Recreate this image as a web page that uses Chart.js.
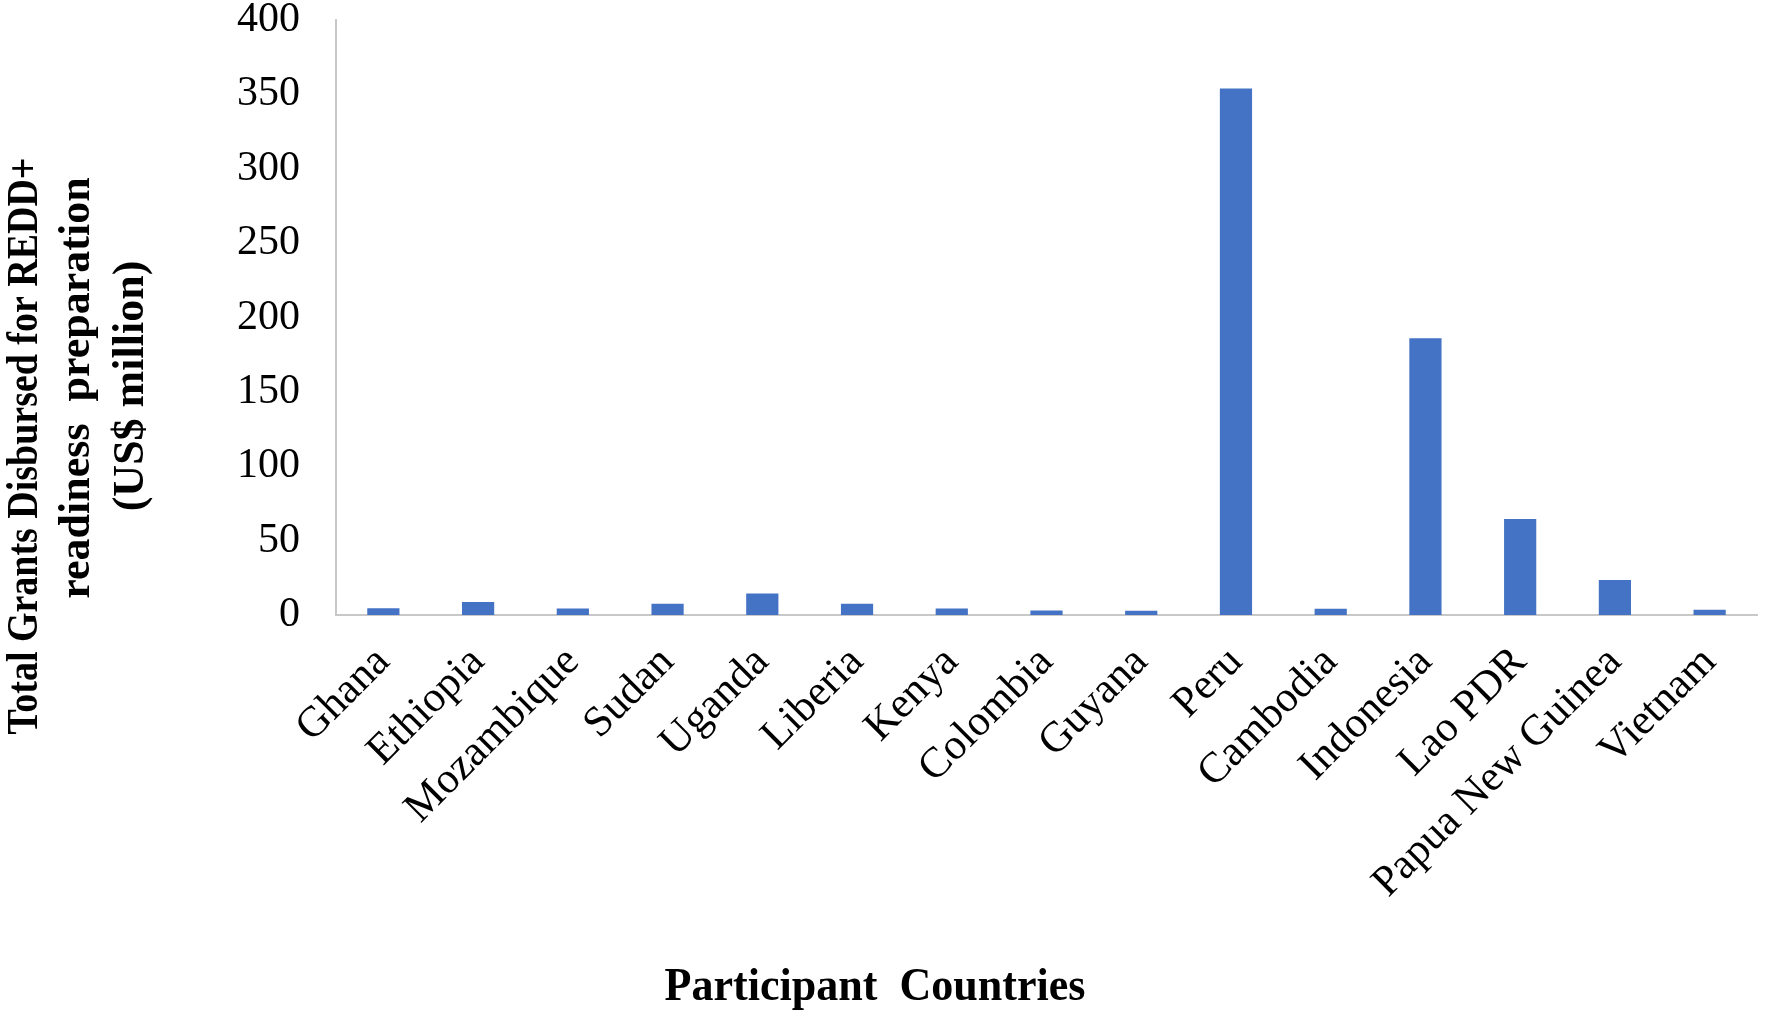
<!DOCTYPE html>
<html>
<head>
<meta charset="utf-8">
<script src="https://cdn.jsdelivr.net/npm/chart.js@4/dist/chart.umd.min.js"></script>
<style>
html,body{margin:0;padding:0;background:#fff;}
#wrap{width:1772px;height:1017px;position:relative;}
</style>
</head>
<body>
<div id="wrap"><canvas id="c" width="1772" height="1017"></canvas></div>
<script>
const countries = ["Ghana","Ethiopia","Mozambique","Sudan","Uganda","Liberia","Kenya","Colombia","Guyana","Peru","Cambodia","Indonesia","Lao PDR","Papua New Guinea","Vietnam"];
const grants = [4.5, 8.7, 4.3, 7.5, 14.5, 7.5, 4.3, 3.0, 2.8, 354, 4.2, 186, 64.5, 23.5, 3.5];
const yTitleLines = ["Total Grants Disbursed for REDD+", "readiness  preparation", "(US$ million)"];
const xTitle = "Participant  Countries";
const yMin = 0, yMax = 400, yStep = 50;

const SERIF = '"Liberation Serif","Times New Roman",serif';

const titlesPlugin = {
  id: 'titles',
  afterDraw(chart) {
    const ctx = chart.ctx;
    ctx.save();
    ctx.fillStyle = '#000';
    ctx.font = 'bold 44px ' + SERIF;
    ctx.textAlign = 'center';
    ctx.textBaseline = 'alphabetic';
    const cy = [446, 388, 386];
    const bx = [37, 89, 143];
    const maxW = [577, 430, 270];
    yTitleLines.forEach((t, i) => {
      ctx.save();
      ctx.translate(bx[i], cy[i]);
      ctx.rotate(-Math.PI / 2);
      ctx.fillText(t, 0, 0, maxW[i]);
      ctx.restore();
    });
    ctx.font = 'bold 46px ' + SERIF;
    ctx.fillText(xTitle, 875, 1000, 421);
    ctx.restore();
  }
};

new Chart(document.getElementById('c'), {
  type: 'bar',
  data: {
    labels: countries,
    datasets: [{
      data: grants,
      backgroundColor: '#4472C4',
      borderWidth: 0,
      categoryPercentage: 1,
      barPercentage: 0.34
    }]
  },
  options: {
    responsive: false,
    animation: false,
    devicePixelRatio: 1,
    layout: { padding: { top: 20, right: 15, left: 0, bottom: 0 } },
    plugins: { legend: { display: false }, tooltip: { enabled: false } },
    scales: {
      x: {
        grid: { display: false, drawTicks: false },
        border: { display: true, color: '#c8c8c8', width: 2 },
        ticks: {
          color: '#000',
          font: { family: SERIF, size: 43 },
          minRotation: 45, maxRotation: 45,
          padding: 22,
          autoSkip: false
        },
        afterFit(scale) { scale.height = 402; }
      },
      y: {
        min: yMin, max: yMax,
        grid: { display: false, drawTicks: false },
        border: { display: true, color: '#c8c8c8', width: 2 },
        ticks: {
          stepSize: yStep,
          color: '#000',
          font: { family: SERIF, size: 42 },
          padding: 36
        },
        afterFit(scale) { scale.width = 336; scale.paddingTop = 0; scale.paddingBottom = 0; }
      }
    }
  },
  plugins: [titlesPlugin]
});
</script>
</body>
</html>
